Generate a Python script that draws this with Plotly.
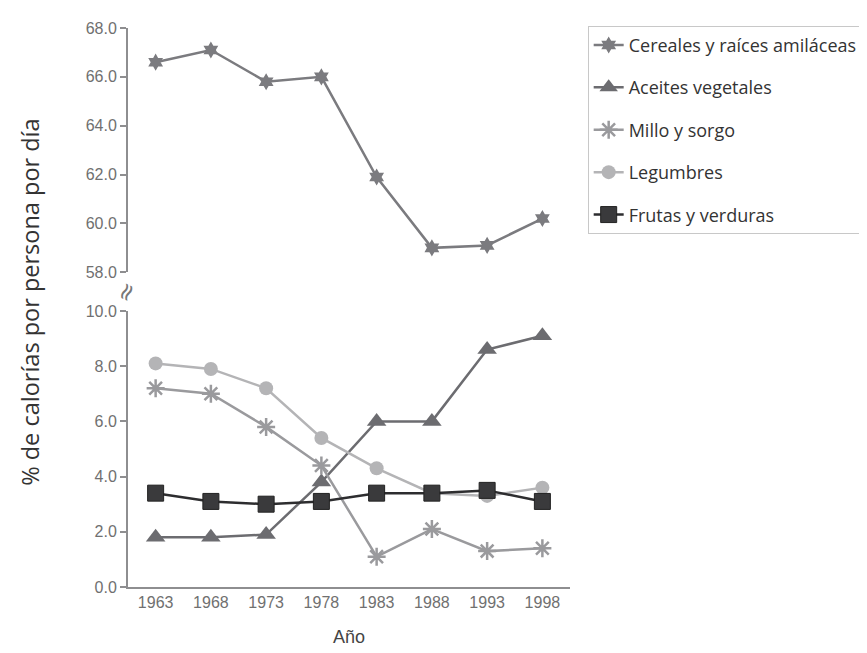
import plotly.graph_objects as go

years = ["1963", "1968", "1973", "1978", "1983", "1988", "1993", "1998"]
cereales = [66.6, 67.1, 65.8, 66.0, 61.9, 59.0, 59.1, 60.2]
aceites = [1.8, 1.8, 1.9, 3.8, 6.0, 6.0, 8.6, 9.1]
millo = [7.2, 7.0, 5.8, 4.4, 1.1, 2.1, 1.3, 1.4]
legumbres = [8.1, 7.9, 7.2, 5.4, 4.3, 3.4, 3.3, 3.6]
frutas = [3.4, 3.1, 3.0, 3.1, 3.4, 3.4, 3.5, 3.1]

names = ["Cereales y raíces amiláceas", "Aceites vegetales", "Millo y sorgo",
         "Legumbres", "Frutas y verduras"]

fig = go.Figure()
fig.add_trace(go.Scatter(
    x=years, y=cereales, name=names[0], yaxis="y2", legendgroup="a",
    mode="lines+markers", line=dict(color="#7b7b7f", width=2.5),
    marker=dict(symbol="hexagram", size=13, color="#7b7b7f")))
fig.add_trace(go.Scatter(
    x=years, y=aceites, name=names[1], legendgroup="b",
    mode="lines+markers", line=dict(color="#6c6c70", width=2.5),
    marker=dict(symbol="triangle-up", size=17, color="#6c6c70")))
fig.add_trace(go.Scatter(
    x=years, y=millo, name=names[2], legendgroup="c",
    mode="lines+markers", line=dict(color="#9a9a9d", width=2.5),
    marker=dict(symbol="asterisk-open", size=15, color="#9a9a9d",
                line=dict(color="#9a9a9d", width=2.5))))
fig.add_trace(go.Scatter(
    x=years, y=legumbres, name=names[3], legendgroup="d",
    mode="lines+markers", line=dict(color="#b4b4b6", width=2.5),
    marker=dict(symbol="circle", size=14, color="#b4b4b6")))
fig.add_trace(go.Scatter(
    x=years, y=frutas, name=names[4], legendgroup="e",
    mode="lines+markers", line=dict(color="#2d2d2f", width=2.5),
    marker=dict(symbol="square", size=16, color="#3a3a3c",
                line=dict(color="#222", width=1))))

tickfont = dict(family="Liberation Sans, Arial, sans-serif", size=16, color="#707070")
axis_common = dict(showline=True, linecolor="#8e8e90", linewidth=2,
                   ticks="outside", ticklen=6, tickcolor="#8e8e90", tickwidth=1.5,
                   showgrid=False, zeroline=False, tickfont=tickfont,
                   tickformat=".1f", dtick=2)

fig.update_layout(
    width=867, height=653,
    margin=dict(l=120, r=300, t=16, b=74),
    paper_bgcolor="white", plot_bgcolor="white",
    xaxis=dict(type="category", range=[-0.5, 7.5], showline=True,
               linecolor="#8e8e90", linewidth=2, ticks="", showgrid=False,
               tickfont=tickfont, anchor="y"),
    yaxis=dict(domain=[0, 0.4938], range=[0, 10], **axis_common),
    yaxis2=dict(domain=[0.563, 1], range=[58, 68], anchor="x", **axis_common),
    showlegend=True,
    legend=dict(x=1.04, y=1.004, xanchor="left", yanchor="top",
                bordercolor="#c8c8c8", borderwidth=1, bgcolor="white",
                font=dict(family="Open Sans, Noto Sans, sans-serif", size=18, color="#333"),
                tracegroupgap=16, traceorder="grouped"),
    annotations=[
        dict(text="% de calorías por persona por día", xref="paper", yref="paper",
             x=-0.222, y=0.51, textangle=-90, showarrow=False,
             xanchor="center", yanchor="middle",
             font=dict(family="Open Sans, Noto Sans, sans-serif", size=23.5, color="#333")),
        dict(text="Año", xref="paper", yref="paper", x=0.5, y=-0.089,
             showarrow=False, xanchor="center", yanchor="middle",
             font=dict(family="Liberation Sans, Arial, sans-serif", size=18, color="#444")),
        dict(text="≈", xref="paper", yref="paper", x=-0.004, y=0.528,
             textangle=-65, showarrow=False, xanchor="center", yanchor="middle",
             font=dict(family="DejaVu Sans", size=24, color="#777")),
    ],
)

fig.write_html("out.html")
